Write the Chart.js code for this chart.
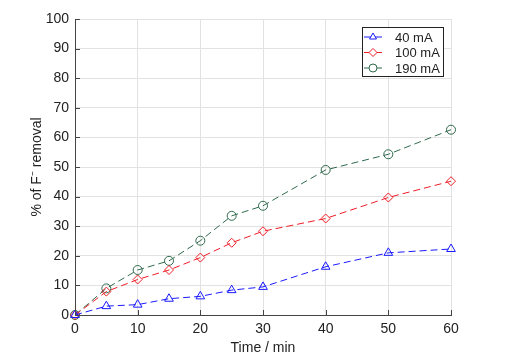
<!DOCTYPE html>
<html>
<head>
<meta charset="utf-8">
<script src="https://cdn.jsdelivr.net/npm/chart.js@4/dist/chart.umd.min.js"></script>
<style>
	html, body { margin: 0; padding: 0; background: #fff; }
	#chart { display: block; }
</style>
</head>
<body>
<canvas id="chart" width="519" height="362"></canvas>
<script>
// data
let timeMin = [0, 5, 10, 15, 20, 25, 30, 40, 50, 60];
let removal40 = [0, 3.0, 3.5, 5.5, 6.3, 8.4, 9.5, 16.3, 21.0, 22.3];
let removal100 = [0, 7.9, 12.0, 15.2, 19.4, 24.4, 28.3, 32.6, 39.7, 45.2];
let removal190 = [0, 9.0, 15.2, 18.3, 25.1, 33.5, 36.9, 49.0, 54.3, 62.6];
let seriesNames = ["40 mA", "100 mA", "190 mA"];
let xTicks = [0, 10, 20, 30, 40, 50, 60];
let yTicks = [0, 10, 20, 30, 40, 50, 60, 70, 80, 90, 100];

let colors = ["#1a1aff", "#ee1c25", "#2f6a4c"];
let markers = ["triangle", "rectRot", "circle"];
let fontFamily = "'Liberation Sans', Arial, sans-serif";

function toPoints(ys){
	return timeMin.map(function (t, i) { return {x: t, y: ys[i]}; });
}

function makeDataset(label, ys, idx){
	return {
		label: label,
		data: toPoints(ys),
		borderColor: colors[idx],
		backgroundColor: colors[idx],
		borderWidth: 1,
		borderDash: [7, 4],
		pointStyle: markers[idx],
		pointRadius: idx === 0 ? 5 : 4.5,
		pointBorderWidth: 1,
		pointBackgroundColor: "rgba(0,0,0,0)",
		pointBorderColor: colors[idx],
		fill: false,
		clip: false,
		tension: 0
	};
}

// inward ticks like the original plot
const innerTicks = {
	id: "innerTicks",
	afterDatasetsDraw(chart){
		const ctx = chart.ctx;
		const xs = chart.scales.x, ys = chart.scales.y;
		const a = chart.chartArea;
		ctx.save();
		ctx.strokeStyle = "#444";
		ctx.lineWidth = 1;
		ctx.beginPath();
		yTicks.forEach(function (v) {
			let py = Math.round(ys.getPixelForValue(v)) + 0.5;
			ctx.moveTo(a.left, py);
			ctx.lineTo(a.left + 5, py);
		});
		xTicks.forEach(function (v) {
			let px = Math.round(xs.getPixelForValue(v)) + 0.5;
			ctx.moveTo(px, a.bottom);
			ctx.lineTo(px, a.bottom - 5);
		});
		ctx.stroke();
		ctx.restore();
	}
};

// boxed legend in the top right corner
const boxLegend = {
	id: "boxLegend",
	afterDraw(chart){
		const ctx = chart.ctx;
		const left = 362, top = 27, w = 81, h = 49, rowH = 15.5;
		ctx.save();
		ctx.fillStyle = "#fff";
		ctx.fillRect(left, top, w, h);
		ctx.strokeStyle = "#222";
		ctx.lineWidth = 1;
		ctx.strokeRect(left + 0.5, top + 0.5, w, h);
		ctx.font = "13px " + fontFamily;
		ctx.textBaseline = "middle";
		chart.data.datasets.forEach(function (ds, i) {
			let cy = top + 10 + i * rowH;
			ctx.strokeStyle = ds.borderColor;
			ctx.beginPath();
			ctx.moveTo(left + 2, cy);
			ctx.lineTo(left + 20, cy);
			ctx.stroke();
			ctx.fillStyle = "#fff";
			Chart.helpers.drawPoint(ctx, {
				pointStyle: ds.pointStyle,
				radius: 4,
				borderWidth: 1
			}, left + 11, cy);
			ctx.fillStyle = "#222";
			ctx.fillText(ds.label, left + 33, cy + 1);
		});
		ctx.restore();
	}
};

let chart = new Chart(document.getElementById("chart"), {
	type: "line",
	data: {
		datasets: [
			makeDataset(seriesNames[0], removal40, 0),
			makeDataset(seriesNames[1], removal100, 1),
			makeDataset(seriesNames[2], removal190, 2)
		]
	},
	options: {
		responsive: false,
		animation: false,
		layout: { padding: { top: 19, right: 68, left: 29, bottom: 0 } },
		plugins: {
			legend: { display: false },
			tooltip: { enabled: false }
		},
		scales: {
			x: {
				type: "linear",
				min: 0,
				max: 60,
				afterBuildTicks: function (axis) { axis.ticks = xTicks.map(function (v) { return {value: v}; }); },
				afterFit: function (axis) { axis.height = 47; },
				grid: { color: "#e2e2e2", drawTicks: false },
				border: { color: "#444", width: 1 },
				ticks: {
					padding: 6,
					color: "#222",
					font: { size: 14, family: fontFamily }
				},
				title: {
					display: true,
					text: "Time / min",
					color: "#222",
					padding: { top: 0, bottom: 5 },
					font: { size: 14, family: fontFamily }
				}
			},
			y: {
				min: 0,
				max: 100,
				afterBuildTicks: function (axis) { axis.ticks = yTicks.map(function (v) { return {value: v}; }); },
				afterFit: function (axis) { axis.width = 46; },
				grid: { color: "#e2e2e2", drawTicks: false },
				border: { color: "#444", width: 1 },
				ticks: {
					padding: 6,
					color: "#222",
					font: { size: 14, family: fontFamily }
				},
				title: {
					display: true,
					text: "% of F\u207B removal",
					color: "#222",
					padding: { top: 0, bottom: 0 },
					font: { size: 14, family: fontFamily }
				}
			}
		}
	},
	plugins: [innerTicks, boxLegend]
});
</script>
</body>
</html>
